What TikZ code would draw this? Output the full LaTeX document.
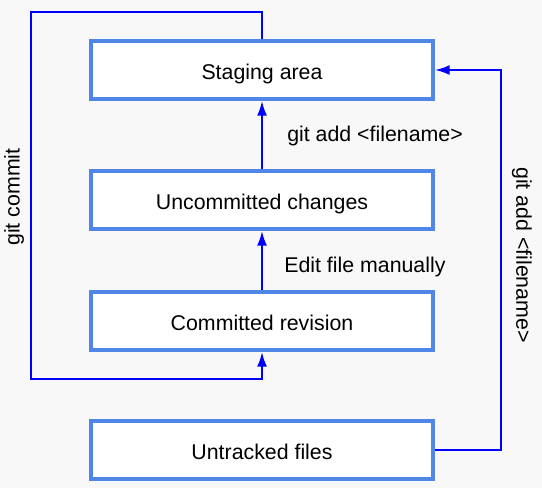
\documentclass[tikz,border=0pt]{standalone}
\usepackage{fontspec}
\setmainfont{Liberation Sans}
\usepackage{tikz}
\usetikzlibrary{arrows.meta}
\definecolor{bgcol}{RGB}{248,248,248}
\definecolor{boxcol}{RGB}{80,134,232}

\begin{document}
\begin{tikzpicture}[x = .75pt, y = -.75pt,
  box/.style = {draw = boxcol, line width = 3pt, fill = white, minimum width = 256.5pt, minimum height = 43.5pt, inner sep = 0pt, text height = 14pt, text depth = 0pt, font = \fontsize{16}{19}\selectfont},
  flow/.style = {blue, line width = 1.5pt, -{Latex[length = 11pt, width = 7.5pt]}},
  lbl/.style = {font = \fontsize{16}{19}\selectfont, inner sep = 0pt}]
\fill[bgcol] (0,0) rectangle (542,488);
\useasboundingbox (0,0) rectangle (542,488);

\node[box] (stage) at (262, 70) {Staging area};
\node[box] (uncommitted) at (262, 200) {Uncommitted changes};
\node[box] (committed) at (262, 321) {Committed revision};
\node[box] (untracked) at (262, 450) {Untracked files};

\coordinate (topleft) at (31, 12);
\coordinate (botleft) at (31, 379);
\coordinate (topright) at (501, 70);

\draw[flow] (uncommitted.north) -- (stage.south);
\draw[flow] (committed.north) -- (uncommitted.south);
\draw[flow] (stage.north) |- (topleft) -- (botleft) -| (committed.south);
\draw[flow] (untracked.east) -| (topright) -- (stage.east);

\node[lbl, anchor = west] (addlbl) at (287, 136) {git add <filename>};
\node[lbl, anchor = west] (editlbl) at (284, 267) {Edit file manually};
\node[lbl, rotate = 90] (commitlbl) at (14, 197) {git commit};
\node[lbl, rotate = -90] (addrlbl) at (522, 255) {git add <filename>};
\end{tikzpicture}
\end{document}
